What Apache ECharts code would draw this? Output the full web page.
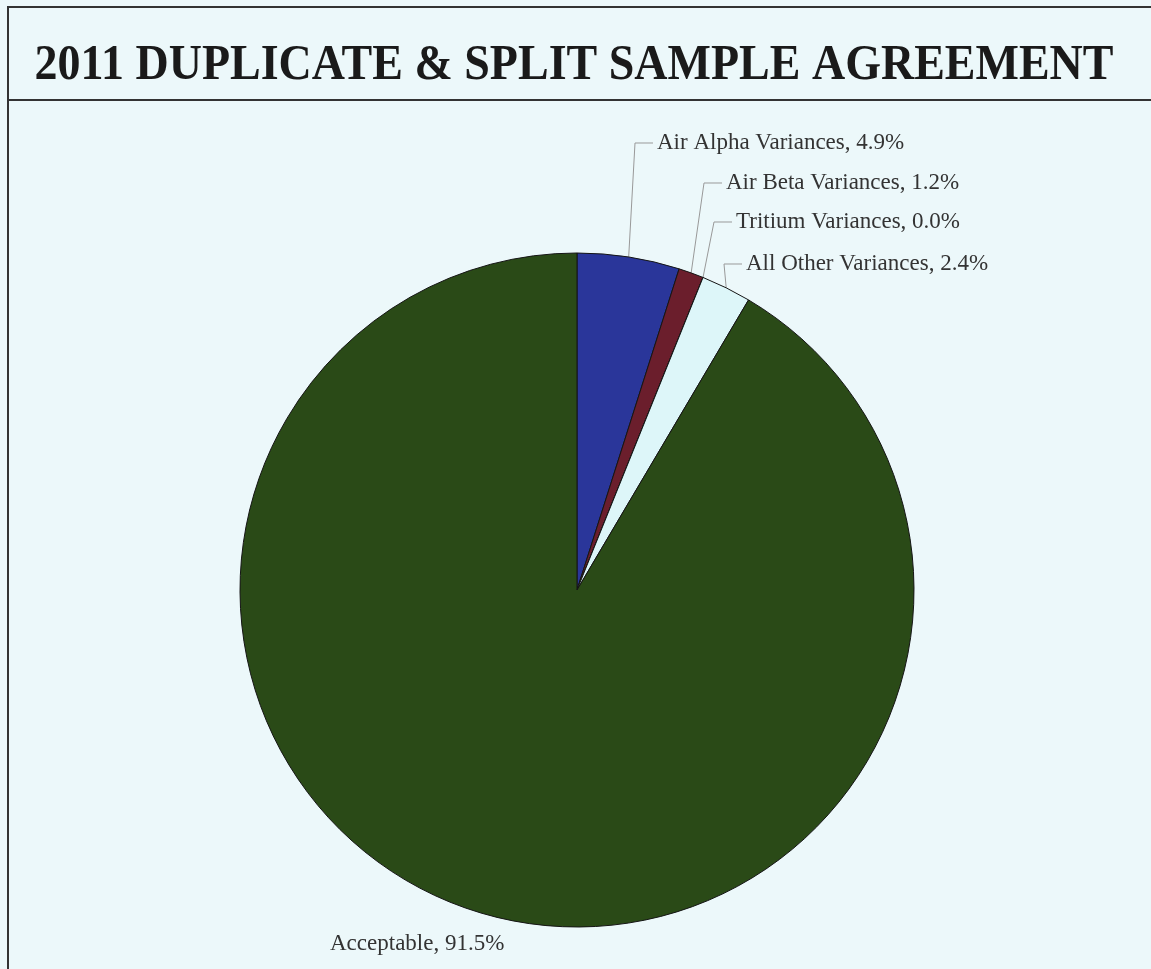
<!DOCTYPE html>
<html>
<head>
<meta charset="utf-8">
<script src="https://cdn.jsdelivr.net/npm/echarts@6/dist/echarts.min.js"></script>
<style>
  html, body { margin: 0; padding: 0; background: #ECF8FA; }
  #chart { width: 1151px; height: 969px; }
</style>
</head>
<body>
<div id="chart"></div>
<script>
// slice names and shares (%), clockwise from 12 o'clock
const categories = ['Air Alpha Variances', 'Air Beta Variances', 'Tritium Variances', 'All Other Variances', 'Acceptable'];
const shares = [4.9, 1.2, 0.0, 2.4, 91.5];
const sliceColors = ['#2A369A', '#6B1E2C', '#DDF6F9', '#DDF6F9', '#2A4A17'];

// where each label sits (left x, middle y)
const labelPos = [[657, 143], [726, 183], [736, 222], [746, 264], [330, 944]];

const chart = echarts.init(document.getElementById('chart'));

const option = {
    backgroundColor: '#ECF8FA',
    animation: false,
    graphic: [
        {
            type: 'rect',
            shape: { x: 8, y: 7, width: 1160, height: 1000 },
            style: { fill: 'none', stroke: '#333', lineWidth: 2 },
            silent: true
        },
        {
            type: 'line',
            shape: { x1: 8, y1: 100, x2: 1151, y2: 100 },
            style: { stroke: '#333', lineWidth: 2 },
            silent: true
        },
        {
            type: 'text',
            x: 574,
            y: 66,
            scaleX: 0.92,
            style: {
                text: '2011 DUPLICATE & SPLIT SAMPLE AGREEMENT',
                font: 'bold 50px "Liberation Serif", "Times New Roman", serif',
                fill: '#1a1a1a',
                align: 'center',
                verticalAlign: 'middle'
            },
            silent: true
        }
    ],
    series: [{
        type: 'pie',
        center: [577, 590],
        radius: 337,
        startAngle: 90,
        clockwise: true,
        avoidLabelOverlap: false,
        itemStyle: { borderColor: '#151515', borderWidth: 1 },
        label: {
            show: true,
            position: 'outside',
            fontFamily: '"Liberation Serif", "Times New Roman", serif',
            fontSize: 23,
            color: '#333',
            formatter: function (p) {
                return p.name + ', ' + p.value.toFixed(1) + '%';
            }
        },
        labelLine: {
            show: true,
            length: 20,
            length2: 10,
            lineStyle: { color: '#999', width: 1 }
        },
        labelLayout: function (params) {
            const i = params.dataIndex;
            const pos = labelPos[i];
            const out = { x: pos[0], y: pos[1], align: 'left', verticalAlign: 'middle' };
            const pts = params.labelLinePoints;
            if (pts && i < 4) {
                const s = pts[0];
                out.labelLinePoints = [
                    [s[0], s[1]],
                    [pos[0] - 22, pos[1]],
                    [pos[0] - 4, pos[1]]
                ];
            }
            return out;
        },
        data: categories.map(function (name, i) {
            const item = {
                name: name,
                value: shares[i],
                itemStyle: { color: sliceColors[i] }
            };
            if (i === 4) item.labelLine = { show: false };
            return item;
        })
    }]
};

chart.setOption(option);
</script>
</body>
</html>
